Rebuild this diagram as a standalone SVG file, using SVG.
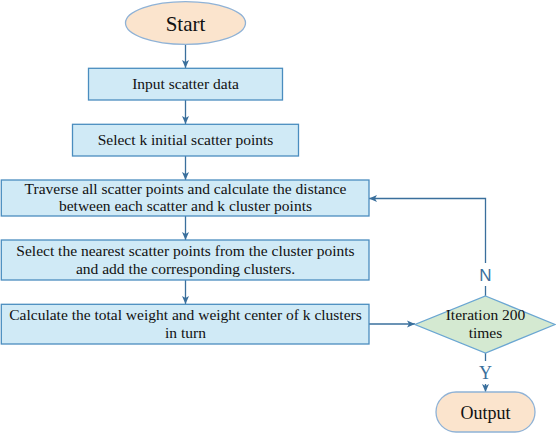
<svg xmlns="http://www.w3.org/2000/svg" width="556" height="433" viewBox="0 0 556 433">
<style>
.bg{fill:#ffffff}
.box{fill:#d0eaf6;stroke:#4a8dbf;stroke-width:1.3}
.term{fill:#fbe4cd;stroke:#8fb2d6;stroke-width:1.3}
.dec{fill:#d4e9d1;stroke:#6aa6d2;stroke-width:1.3}
.t{font-family:'Liberation Serif','Times New Roman','DejaVu Serif',serif;font-size:15.5px;fill:#111;text-anchor:middle}
.big{font-size:21px}
.out{font-size:18px}
.ln{fill:none;stroke:#3a6f9c;stroke-width:1.3}
.labn{fill:#3a6f9c;text-anchor:middle;font-family:'Liberation Sans',Arial,sans-serif;font-size:17px}
.laby{fill:#3a6f9c;text-anchor:middle;font-family:'Liberation Serif','Times New Roman','DejaVu Serif',serif;font-size:18px}
</style>
<defs>
<marker id="ah" viewBox="0 0 8 8" refX="8" refY="4" markerWidth="8" markerHeight="8" markerUnits="userSpaceOnUse" orient="auto">
<path d="M0,0.5 L8,4 L0,7.5 L2,4 Z" fill="#3a6f9c"/>
</marker>
</defs>
<rect class="bg" x="0" y="0" width="556" height="433"/>
<g id="connectors">
<line class="ln" x1="185.5" y1="44.5" x2="185.5" y2="68" marker-end="url(#ah)"/>
<line class="ln" x1="185.5" y1="100" x2="185.5" y2="124" marker-end="url(#ah)"/>
<line class="ln" x1="185.5" y1="156" x2="185.5" y2="180" marker-end="url(#ah)"/>
<line class="ln" x1="185.5" y1="216" x2="185.5" y2="240" marker-end="url(#ah)"/>
<line class="ln" x1="185.5" y1="280" x2="185.5" y2="304" marker-end="url(#ah)"/>
<line class="ln" x1="369" y1="324" x2="415" y2="324" marker-end="url(#ah)"/>
<polyline class="ln" points="485.5,296 485.5,286"/>
<polyline class="ln" points="485.5,263 485.5,198.5 369,198.5" marker-end="url(#ah)"/>
<text class="labn" x="485.5" y="281">N</text>
<line class="ln" x1="485.5" y1="353" x2="485.5" y2="361"/>
<line class="ln" x1="485.5" y1="384" x2="485.5" y2="392" marker-end="url(#ah)"/>
<text class="laby" x="485.5" y="379">Y</text>
</g>
<g id="start">
<ellipse class="term" cx="185.5" cy="23" rx="60" ry="21.3"/>
<text class="t big" x="185.5" y="30.5">Start</text>
</g>
<g id="input">
<rect class="box" x="88.5" y="68.3" width="194" height="31.7"/>
<text class="t" x="185.5" y="88.8">Input scatter data</text>
</g>
<g id="selectk">
<rect class="box" x="72.5" y="124.3" width="226" height="31.7"/>
<text class="t" x="185.5" y="144.8">Select k initial scatter points</text>
</g>
<g id="traverse">
<rect class="box" x="1.3" y="180" width="367.7" height="36"/>
<text class="t" x="185.5" y="193.5">Traverse all scatter points and calculate the distance</text>
<text class="t" x="185.5" y="211.3">between each scatter and k cluster points</text>
</g>
<g id="nearest">
<rect class="box" x="1.3" y="240" width="367.7" height="40"/>
<text class="t" x="185.5" y="256">Select the nearest scatter points from the cluster points</text>
<text class="t" x="185.5" y="273.5">and add the corresponding clusters.</text>
</g>
<g id="calculate">
<rect class="box" x="1.3" y="304.3" width="367.7" height="39.7"/>
<text class="t" x="185.5" y="320">Calculate the total weight and weight center of k clusters</text>
<text class="t" x="185.5" y="337.5">in turn</text>
</g>
<g id="iteration">
<polygon class="dec" points="485.5,296 555,324.5 485.5,353 415,324.5"/>
<text class="t" x="485.5" y="320">Iteration 200</text>
<text class="t" x="485.5" y="338">times</text>
</g>
<g id="output">
<rect class="term" x="436" y="392" width="99" height="40" rx="20" ry="20"/>
<text class="t out" x="485.5" y="418.5">Output</text>
</g>
</svg>
